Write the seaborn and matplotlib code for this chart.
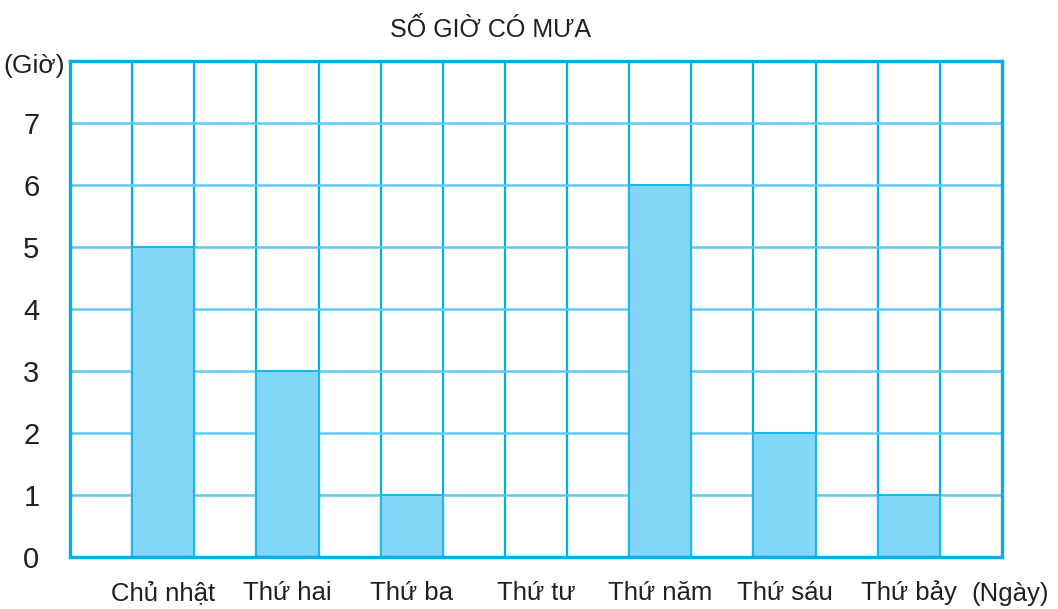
import matplotlib
matplotlib.use("Agg")
import matplotlib.pyplot as plt
import seaborn as sns
import numpy as np
import pandas as pd

days = ["Chủ nhật", "Thứ hai", "Thứ ba", "Thứ tư", "Thứ năm", "Thứ sáu", "Thứ bảy"]
hours = [5, 3, 1, 0, 6, 2, 1]
y_ticks = [0, 1, 2, 3, 4, 5, 6, 7]

title = "SỐ GIỜ CÓ MƯA"
y_unit = "(Giờ)"
x_unit = "(Ngày)"

sns.set_theme(style="white")
plt.rcParams["font.family"] = ["Liberation Sans", "DejaVu Sans"]

frame_blue = "#00AEEF"
hline_blue = "#5BCBF2"
bar_fill = "#82D6F7"
bar_edge = "#1FB5EE"
text_col = "#231F20"

fig = plt.figure(figsize=(10.58, 6.09), dpi=100)
ax = fig.add_axes([70 / 1058, 1 - 557 / 609, (1002 - 70) / 1058, (557 - 61) / 609])

df = pd.DataFrame({"day": days, "hours": hours})
sns.barplot(data=df, x="day", y="hours", order=days, width=0.5,
            color=bar_fill, edgecolor=bar_edge, linewidth=1.5,
            saturation=1, ax=ax, zorder=3)

ax.set_xlim(-0.75, len(days) - 0.25)
ax.set_ylim(0, 8)

# grid: vertical lines every half category, horizontal lines at each hour
for xv in np.arange(-0.25, len(days) - 0.25, 0.5):
    ax.axvline(xv, color=frame_blue, lw=1.6, zorder=1)
for yv in y_ticks[1:]:
    ax.axhline(yv, color=hline_blue, lw=1.8, zorder=1)

for sp in ax.spines.values():
    sp.set_color(frame_blue)
    sp.set_linewidth(2.4)
    sp.set_zorder(4)

ax.set_yticks(y_ticks)
ax.set_yticklabels([str(v) for v in y_ticks])
ax.tick_params(axis="y", length=0, pad=22, labelsize=21, labelcolor=text_col)
ax.tick_params(axis="x", length=0, pad=31, labelsize=18.5, labelcolor=text_col)
for lab in ax.get_xticklabels():
    lab.set_verticalalignment("baseline")
ax.set_xlabel("")
ax.set_ylabel("")

fig.text(490 / 1058, 1 - 37 / 609, title, ha="center", va="baseline",
         fontsize=18, color=text_col)
fig.text(34 / 1058, 1 - 73 / 609, y_unit, ha="center", va="baseline",
         fontsize=19, color=text_col)
fig.text(1010 / 1058, 1 - 601 / 609, x_unit, ha="center", va="baseline",
         fontsize=18.5, color=text_col)

fig.savefig("out.png", dpi=100, facecolor="white")
